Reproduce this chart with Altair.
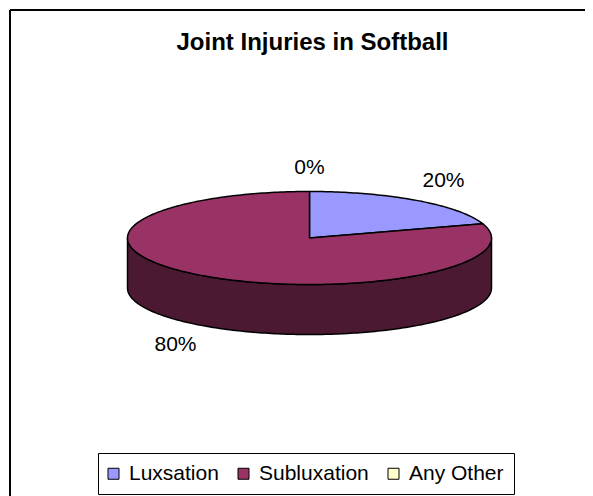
import math
import altair as alt
import pandas as pd

# ---- data ----
categories = ["Luxsation", "Subluxation", "Any Other"]
values = [20, 80, 0]
title_text = "Joint Injuries in Softball"

# ---- styles ----
top_colors = ["#9999FF", "#993366", "#FFFFCC"]
FONT = "Liberation Sans"

# ---- layout (plot-area pixels) ----
W, H = 575, 486
CX, CY = 299.5, 228.0      # centre of top ellipse
RX, RY = 182.0, 46.5       # radii of top ellipse
DEPTH = 50.0               # thickness of the 3-D pie
LRX, LRY = 228.0, 70.0     # label ellipse

total = float(sum(values))


def pt(theta_deg, dy=0.0):
    t = math.radians(theta_deg)
    return [CX + RX * math.sin(t), CY - RY * math.cos(t) + dy]


def arc(t1, t2, dy=0.0):
    n = max(2, int(abs(t2 - t1)) + 1)
    return [pt(t1 + (t2 - t1) * i / (n - 1), dy) for i in range(n)]


def feature(name, ring):
    return {"type": "Feature", "properties": {"name": name},
            "geometry": {"type": "Polygon", "coordinates": [ring]}}


top_features, side_features, label_rows = [], [], []
start = 0.0
for name, v in zip(categories, values):
    sweep = 360.0 * v / total
    end = start + sweep
    if sweep > 0:
        top_features.append(feature(name, [[CX, CY]] + arc(start, end) + [[CX, CY]]))
        s1, s2 = max(start, 90.0), min(end, 270.0)
        if s2 > s1:
            ring = arc(s1, s2) + arc(s2, s1, DEPTH) + [pt(s1)]
            side_features.append(feature(name, ring))
    mid = math.radians(start + sweep / 2)
    lx = CX + LRX * math.sin(mid)
    ly = CY - LRY * math.cos(mid) + (DEPTH if math.cos(mid) < 0 else 0.0)
    label_rows.append({"name": name, "label": f"{round(100 * v / total)}%",
                       "lon": lx, "lat": ly})
    start = end

labels_df = pd.DataFrame(label_rows)

proj = dict(type="identity", scale=1, translate=[0, 0])

legend = alt.Legend(
    title=None, orient="none", legendX=88, legendY=443, direction="horizontal",
    strokeColor="black", fillColor="white", padding=10,
    symbolType="square", symbolSize=121, symbolStrokeColor="black",
    symbolStrokeWidth=1, symbolOpacity=1, symbolOffset=-5,
    labelFont=FONT, labelFontSize=21, labelColor="black", labelLimit=300,
    labelOffset=5, columnPadding=17,
)

color = alt.Color("properties.name:N",
                  scale=alt.Scale(domain=categories, range=top_colors),
                  legend=legend)

# side walls in the slice colour, then darkened by a half-transparent black wash
sides = alt.Chart(alt.Data(values=side_features)).mark_geoshape(
    strokeWidth=0, opacity=1
).encode(color=color).project(**proj)

shade = alt.Chart(alt.Data(values=side_features)).mark_geoshape(
    fill="black", fillOpacity=0.5, stroke="black", strokeWidth=1.5,
    strokeJoin="round"
).project(**proj)

tops = alt.Chart(alt.Data(values=top_features)).mark_geoshape(
    stroke="black", strokeWidth=1.5, strokeJoin="round", opacity=1
).encode(color=color).project(**proj)

labels = alt.Chart(labels_df).mark_text(
    font=FONT, fontSize=21, color="black", align="center", baseline="middle"
).encode(
    longitude="lon:Q", latitude="lat:Q", text="label:N"
).project(**proj)

frame_data = alt.Data(values=[{}])
frame_top = alt.Chart(frame_data).mark_rule(color="black", strokeWidth=2).encode(
    x=alt.value(0), x2=alt.value(W + 10), y=alt.value(0))
frame_left = alt.Chart(frame_data).mark_rule(color="black", strokeWidth=2).encode(
    x=alt.value(0), y=alt.value(0), y2=alt.value(H + 10))

chart = alt.layer(frame_top, frame_left, sides, shade, tops, labels).properties(
    width=W, height=H,
    title=alt.TitleParams(text=title_text, font=FONT, fontSize=24,
                          fontWeight="bold", color="black", anchor="middle",
                          frame="group", offset=-46, dx=15),
    autosize=alt.AutoSizeParams(type="none"),
    padding={"left": 2, "top": 2, "right": 0, "bottom": 0},
    background="white",
).configure_view(stroke="transparent", strokeWidth=0)

chart.save("out.html", embed_options={"renderer": "svg", "actions": False})
